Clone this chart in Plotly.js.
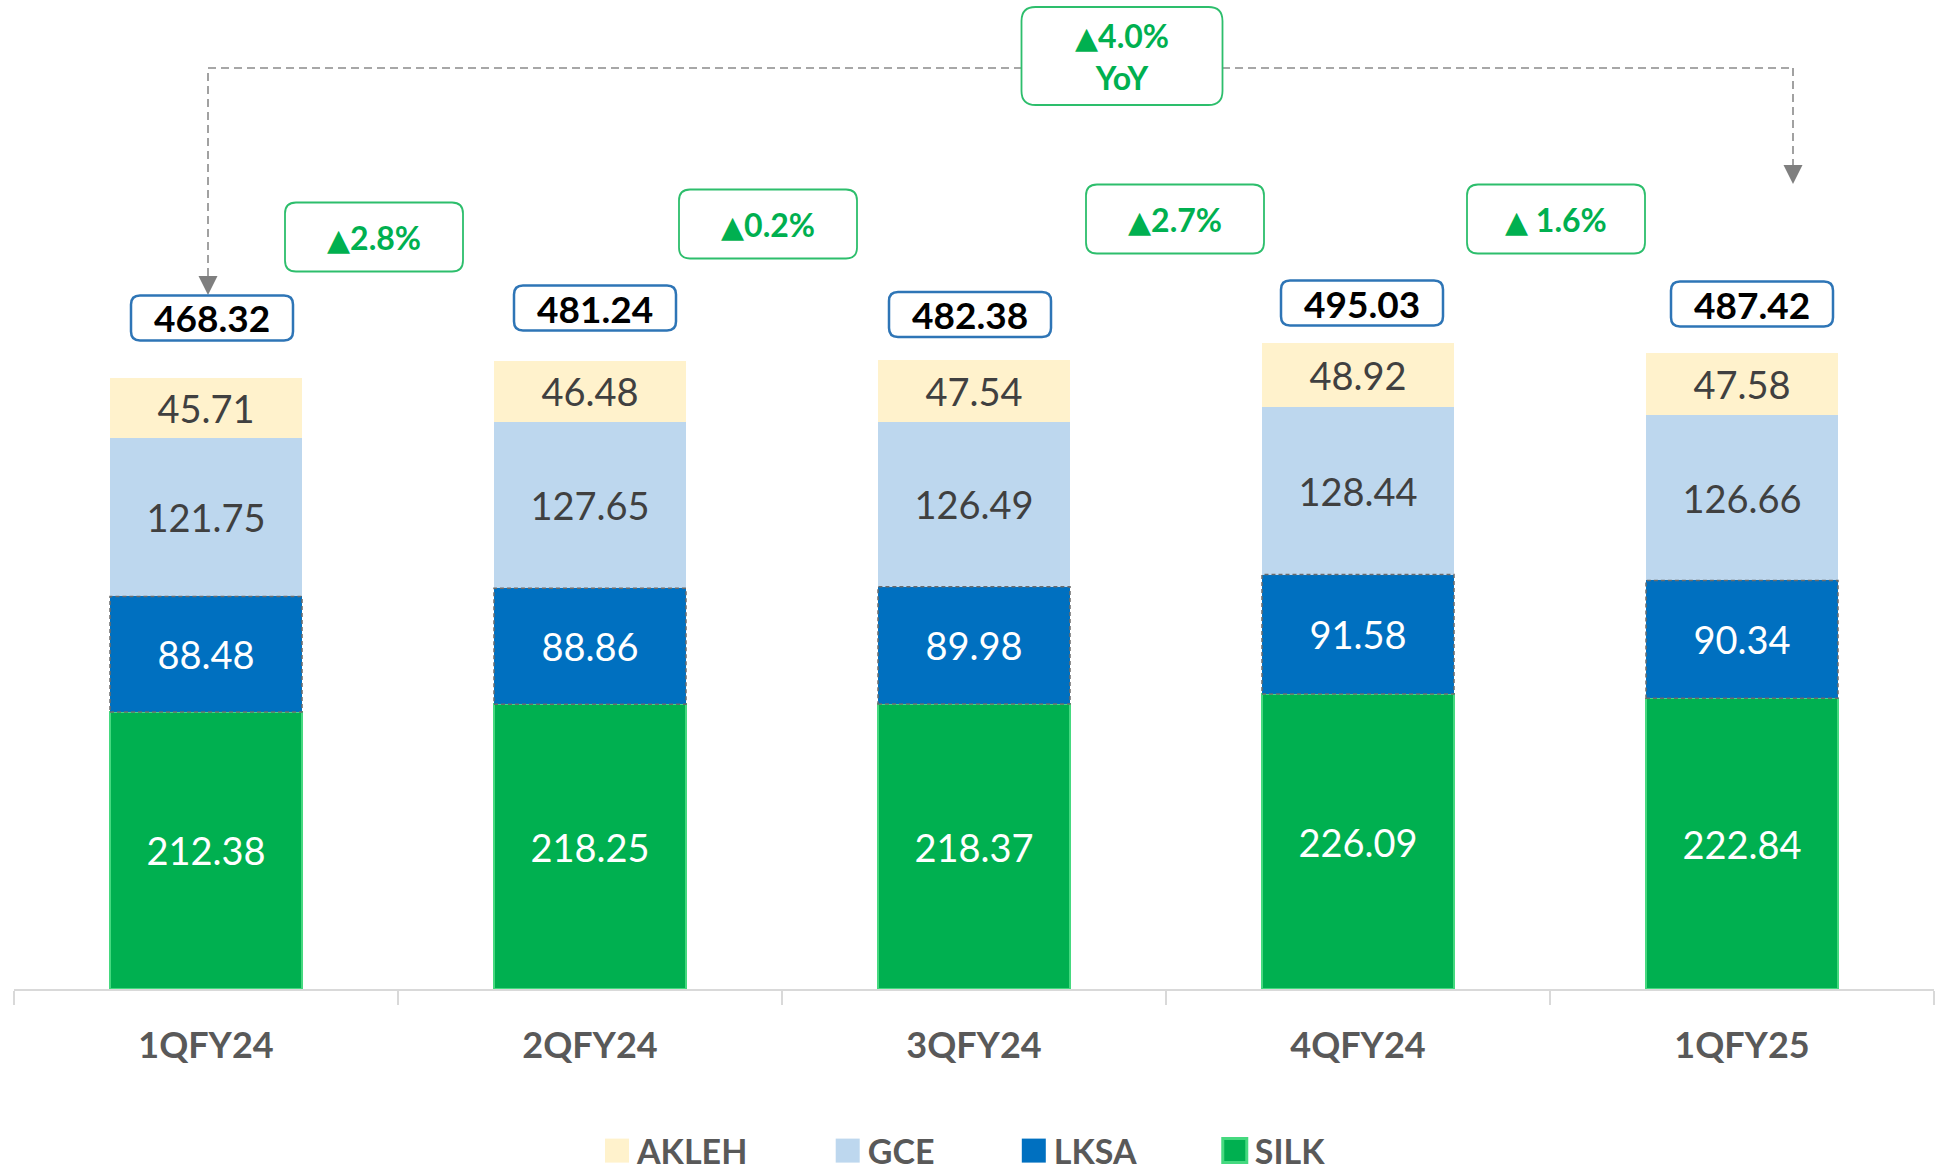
<!DOCTYPE html>
<html><head><meta charset="utf-8">
<script src="https://cdn.plot.ly/plotly-3.0.1.min.js"></script>
<style>html,body{margin:0;padding:0;background:#fff;} #chart{width:1952px;height:1172px;}</style>
</head><body><div id="chart"></div>
<script>
// ---------------- DATA ----------------
const categories = ['1QFY24', '2QFY24', '3QFY24', '4QFY24', '1QFY25'];
const silk  = [212.38, 218.25, 218.37, 226.09, 222.84];
const lksa  = [88.48, 88.86, 89.98, 91.58, 90.34];
const gce   = [121.75, 127.65, 126.49, 128.44, 126.66];
const akleh = [45.71, 46.48, 47.54, 48.92, 47.58];
const totals = [468.32, 481.24, 482.38, 495.03, 487.42];
const qoqGrowth = ['2.8%', '0.2%', '2.7%', ' 1.6%'];
const yoyGrowth = '4.0%';
const yoyLabel = 'YoY';

// ---------------- LAYOUT GEOMETRY ----------------
const W = 1952, H = 1172;
const M = {l: 14, r: 18, t: 0, b: 183, autoexpand: false};
const plotW = W - M.l - M.r, plotH = H - M.t - M.b;
const yMax = 758;
const pxU = plotH / yMax;
const pxC = plotW / categories.length;
const FONT = 'Lato, "Open Sans", sans-serif';
const GREEN_TXT = '#00B050';
const GREEN_BOX = '#2DBE6C';
const TRI = '<span style="font-family:\'DejaVu Sans\';font-size:30px">▲</span>';
const LEGEND_PAD = '\u00a0'.repeat(9);

function xAt(i, dpx) { return i + (dpx || 0) / pxC; }
function yAt(py) { return (plotH - py) / pxU; }
function yPaper(py) { return (plotH - py) / plotH; }
function rr(cx, cy, w, h, r) {
  const x0 = cx - w / 2, x1 = cx + w / 2, y0 = cy - h / 2, y1 = cy + h / 2;
  return `M${x0 + r},${y0} L${x1 - r},${y0} Q${x1},${y0} ${x1},${y0 + r} L${x1},${y1 - r} Q${x1},${y1} ${x1 - r},${y1} ` +
         `L${x0 + r},${y1} Q${x0},${y1} ${x0},${y1 - r} L${x0},${y0 + r} Q${x0},${y0} ${x0 + r},${y0} Z`;
}

// decoration placement (pixels)
const totalBoxOffset = [60, 53, 45, 40, 49];
const totalBoxDx = [6, 5, -4, 4, 10];
const growthBoxDx = [-24, -14, 9, 6];
const growthBoxPy = [237, 224, 219, 219];
const yoyBox = {cat: 2, dx: 148, py: 56};
const connector = {py: 68, leftDx: 2, rightDx: 51, leftTipPy: 295, rightTipPy: 184};

// ---------------- TRACES ----------------
function barTrace(name, vals, color, txtColor, line, pad) {
  return {
    type: 'bar', name: name + (pad ? LEGEND_PAD : ''), x: categories, y: vals,
    marker: {color: color, line: line || {width: 0}},
    text: vals.map(v => v.toFixed(2)),
    textposition: 'inside', insidetextanchor: 'middle', textangle: 0,
    constraintext: 'none',
    textfont: {family: FONT, size: 38, color: txtColor},
    hoverinfo: 'skip'
  };
}
const data = [
  barTrace('SILK', silk, '#00B050', '#FFFFFF', {color: '#45D97F', width: 1.5}, false),
  barTrace('LKSA', lksa, '#0070C0', '#FFFFFF', {width: 0}, true),
  barTrace('GCE', gce, '#BDD7EE', '#404040', {width: 0}, true),
  barTrace('AKLEH', akleh, '#FFF2CC', '#404040', {width: 0}, true)
];

// ---------------- SHAPES & ANNOTATIONS ----------------
const shapes = [];
const annotations = [];

// dashed outline of LKSA segments
categories.forEach((c, i) => {
  shapes.push({type: 'rect', xref: 'x', yref: 'y', x0: i - 0.25, x1: i + 0.25,
    y0: silk[i], y1: silk[i] + lksa[i], line: {color: '#6B6B6B', width: 1.5, dash: '4px,3px'}, layer: 'above'});
});

// connector (YoY)
const dashLine = {color: '#8A8A8A', width: 1.6, dash: '8px,5px'};
const xL = xAt(0, connector.leftDx), xR = xAt(4, connector.rightDx);
shapes.push({type: 'line', xref: 'x', yref: 'y', x0: xL, x1: xL, y0: yAt(connector.leftTipPy - 19), y1: yAt(connector.py), line: dashLine, layer: 'above'});
shapes.push({type: 'line', xref: 'x', yref: 'y', x0: xL, x1: xR, y0: yAt(connector.py), y1: yAt(connector.py), line: dashLine, layer: 'above'});
shapes.push({type: 'line', xref: 'x', yref: 'y', x0: xR, x1: xR, y0: yAt(connector.py), y1: yAt(connector.rightTipPy - 19), line: dashLine, layer: 'above'});
[[xL, connector.leftTipPy], [xR, connector.rightTipPy]].forEach(([x, py]) => {
  shapes.push({type: 'path', xref: 'x', yref: 'y', xsizemode: 'pixel', ysizemode: 'pixel',
    xanchor: x, yanchor: yAt(py), path: 'M-9.5,19 L9.5,19 L0,0 Z',
    fillcolor: '#7F7F7F', line: {width: 0}, layer: 'above'});
});

// total boxes
totals.forEach((t, i) => {
  const off = totalBoxOffset[i];
  const x = xAt(i, totalBoxDx[i]);
  shapes.push({type: 'path', xref: 'x', yref: 'y', xsizemode: 'pixel', ysizemode: 'pixel',
    xanchor: x, yanchor: t, path: rr(0, off, 162, 45, 9),
    fillcolor: '#FFFFFF', line: {color: '#2E75B6', width: 2.5}, layer: 'above'});
  annotations.push({xref: 'x', yref: 'y', x: x, y: t, yshift: off, showarrow: false,
    text: t.toFixed(2), font: {family: FONT, size: 37, color: '#000000', weight: 'bold'}});
});

// QoQ growth boxes
qoqGrowth.forEach((g, i) => {
  const x = xAt(i + 0.5, growthBoxDx[i]), y = yAt(growthBoxPy[i]);
  shapes.push({type: 'path', xref: 'x', yref: 'y', xsizemode: 'pixel', ysizemode: 'pixel',
    xanchor: x, yanchor: y, path: rr(0, 0, 178, 69, 11),
    fillcolor: '#FFFFFF', line: {color: GREEN_BOX, width: 1.8}, layer: 'above'});
  annotations.push({xref: 'x', yref: 'y', x: x, y: y, showarrow: false,
    text: TRI + g, font: {family: FONT, size: 32, color: GREEN_TXT, weight: 'bold'}});
});

// YoY box
{
  const x = xAt(yoyBox.cat, yoyBox.dx), y = yAt(yoyBox.py);
  shapes.push({type: 'path', xref: 'x', yref: 'y', xsizemode: 'pixel', ysizemode: 'pixel',
    xanchor: x, yanchor: y, path: rr(0, 0, 201, 98, 14),
    fillcolor: '#FFFFFF', line: {color: GREEN_BOX, width: 1.8}, layer: 'above'});
  annotations.push({xref: 'x', yref: 'y', x: x, y: y, showarrow: false,
    text: TRI + yoyGrowth + '<br>' + yoyLabel, font: {family: FONT, size: 32, color: GREEN_TXT, weight: 'bold'}});
}

const layout = {
  width: W, height: H,
  margin: M,
  paper_bgcolor: '#FFFFFF', plot_bgcolor: '#FFFFFF',
  barmode: 'stack', bargap: 0.5,
  showlegend: true,
  legend: {orientation: 'h', x: 0.5 - 10 / plotW, xanchor: 'center', y: yPaper(1151), yanchor: 'middle',
    traceorder: 'reversed',
    font: {family: FONT, size: 34, color: '#595959', weight: 'bold'}},
  xaxis: {type: 'category', showline: true, linecolor: '#D9D9D9', linewidth: 2,
    ticks: 'outside', tickson: 'boundaries', ticklen: 14, tickcolor: '#D9D9D9', tickwidth: 1.5,
    showgrid: false, zeroline: false, ticklabelstandoff: 24,
    tickfont: {family: FONT, size: 36, color: '#595959', weight: 'bold'}, fixedrange: true},
  yaxis: {visible: false, range: [0, yMax], fixedrange: true, showgrid: false, zeroline: false},
  shapes: shapes,
  annotations: annotations
};

Plotly.newPlot('chart', data, layout, {staticPlot: true, displayModeBar: false}).then(gd => {
  gd.querySelectorAll('.legend .legendpoints path').forEach(p => {
    const t = p.getAttribute('transform') || '';
    p.setAttribute('transform', t + ' scale(2)');
  });
});
</script>
</body></html>
